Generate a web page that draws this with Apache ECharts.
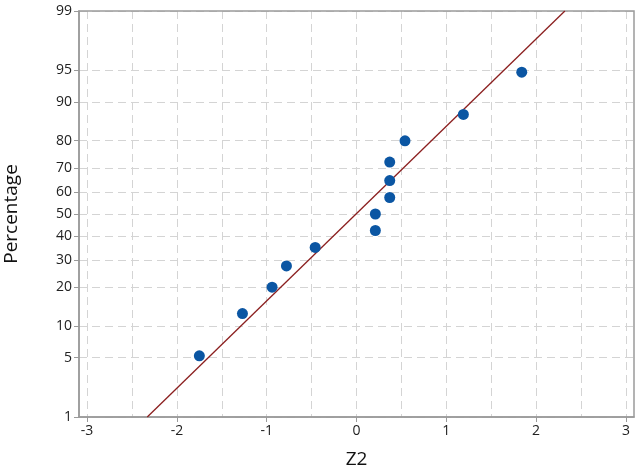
<!DOCTYPE html>
<html>
<head>
<meta charset="utf-8">
<script src="https://cdn.jsdelivr.net/npm/echarts@6/dist/echarts.min.js"></script>
<style>
  html, body { margin: 0; padding: 0; background: #fff; }
  #chart { width: 641px; height: 471px; }
</style>
</head>
<body>
<div id="chart"></div>
<script>
// values
const z2Values = [-1.75, -1.27, -0.94, -0.78, -0.46, 0.21, 0.21, 0.37, 0.37, 0.37, 0.54, 1.19, 1.84];
const pctValues = [5.2, 12.7, 20.1, 27.6, 35.1, 42.5, 50, 57.5, 64.9, 72.4, 79.9, 87.3, 94.8];
// fitted line end points
const fitX = [-2.33, 2.32];
const fitPct = [1, 99];
// tick labels
const pctTicks = [1, 5, 10, 20, 30, 40, 50, 60, 70, 80, 90, 95, 99];
const xTicks = [-3, -2, -1, 0, 1, 2, 3];

// inverse normal cdf (Acklam), gives the probability scale
function qnorm(p) {
  const a = [-3.969683028665376e+01, 2.209460984245205e+02, -2.759285104469687e+02, 1.383577518672690e+02, -3.066479806614716e+01, 2.506628277459239e+00];
  const b = [-5.447609879822406e+01, 1.615858368580409e+02, -1.556989798598866e+02, 6.680131188771972e+01, -1.328068155288572e+01];
  const c = [-7.784894002430293e-03, -3.223964580411365e-01, -2.400758277161838e+00, -2.549732539343734e+00, 4.374664141464968e+00, 2.938163982698783e+00];
  const d = [7.784695709041462e-03, 3.224671290700398e-01, 2.445134137142996e+00, 3.754408661907416e+00];
  const pl = 0.02425;
  let q, r;
  if (p < pl) {
    q = Math.sqrt(-2 * Math.log(p));
    return (((((c[0]*q+c[1])*q+c[2])*q+c[3])*q+c[4])*q+c[5]) / ((((d[0]*q+d[1])*q+d[2])*q+d[3])*q+1);
  }
  if (p > 1 - pl) {
    q = Math.sqrt(-2 * Math.log(1 - p));
    return -(((((c[0]*q+c[1])*q+c[2])*q+c[3])*q+c[4])*q+c[5]) / ((((d[0]*q+d[1])*q+d[2])*q+d[3])*q+1);
  }
  q = p - 0.5;
  r = q * q;
  return (((((a[0]*r+a[1])*r+a[2])*r+a[3])*r+a[4])*r+a[5])*q / (((((b[0]*r+b[1])*r+b[2])*r+b[3])*r+b[4])*r+1);
}

const yTickVals = pctTicks.map(p => qnorm(p / 100));
const labelOf = {};
pctTicks.forEach((p, i) => { labelOf[yTickVals[i].toFixed(4)] = String(p); });

const points = z2Values.map((x, i) => [x, qnorm(pctValues[i] / 100)]);
const fitLine = fitX.map((x, i) => [x, qnorm(fitPct[i] / 100)]);

const font = '"Open Sans", "Noto Sans", sans-serif';
const gridLine = { show: true, lineStyle: { color: '#d4d4d4', type: [8, 5], width: 1 } };

const option = {
  animation: false,
  grid: { left: 79, right: 7, top: 11, bottom: 54, outerBoundsMode: 'none', containLabel: false },
  xAxis: {
    type: 'value',
    min: -3.09,
    max: 3.09,
    splitNumber: 6,
    name: 'Z2',
    nameLocation: 'middle',
    nameGap: 33,
    nameTextStyle: { fontFamily: font, fontSize: 19, color: '#111' },
    axisLine: { show: true, onZero: false, lineStyle: { color: '#9a9a9a', width: 1.5 } },
    axisTick: { show: true, customValues: xTicks, length: 5, lineStyle: { color: '#9a9a9a' } },
    axisLabel: { customValues: xTicks, fontFamily: font, fontSize: 14, color: '#222', margin: 7 },
    splitLine: gridLine,
    minorTick: { show: false, splitNumber: 2 },
    minorSplitLine: gridLine
  },
  yAxis: {
    type: 'value',
    min: qnorm(0.01),
    max: qnorm(0.99),
    name: 'Percentage',
    nameLocation: 'middle',
    nameGap: 58,
    nameTextStyle: { fontFamily: font, fontSize: 19, color: '#111' },
    axisLine: { show: true, onZero: false, lineStyle: { color: '#9a9a9a', width: 1.5 } },
    axisTick: { show: true, customValues: yTickVals, length: 5, lineStyle: { color: '#9a9a9a' } },
    axisLabel: {
      customValues: yTickVals,
      fontFamily: font, fontSize: 14, color: '#222', margin: 7,
      formatter: v => labelOf[v.toFixed(4)] || ''
    },
    splitLine: gridLine
  },
  series: [
    {
      type: 'line',
      data: fitLine,
      symbol: 'none',
      lineStyle: { color: '#8b1f1f', width: 1.3 },
      z: 3
    },
    {
      type: 'scatter',
      data: points,
      symbolSize: 11,
      itemStyle: { color: '#0b56a3', opacity: 1 },
      z: 4
    }
  ]
};

const chart = echarts.init(document.getElementById('chart'), null, { renderer: 'canvas' });
chart.setOption(option);

// right and top frame lines
chart.setOption({
  graphic: [{
    type: 'rect',
    shape: { x: 79, y: 11, width: 555, height: 406 },
    style: { fill: 'none', stroke: '#9a9a9a', lineWidth: 1.5 },
    silent: true, z: 0
  }]
});
</script>
</body>
</html>
